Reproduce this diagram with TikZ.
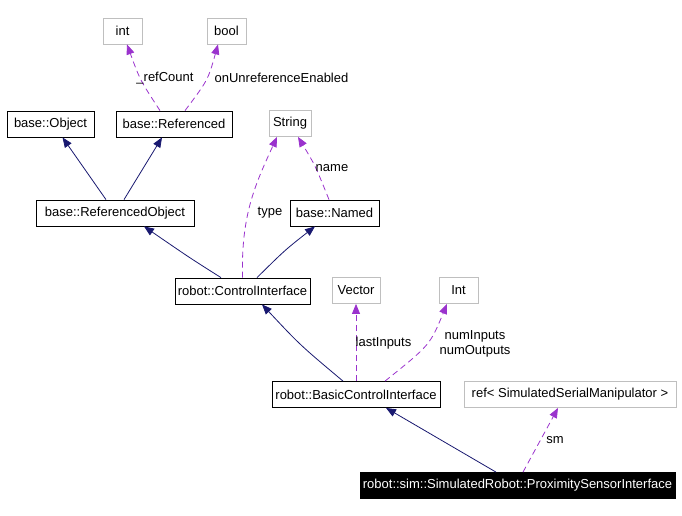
\documentclass[tikz,border=0pt]{standalone}
\usepackage{fontspec}
\setmainfont{Liberation Sans}
\usetikzlibrary{arrows.meta}
\definecolor{inhcol}{RGB}{25,25,112}
\definecolor{usecol}{RGB}{154,50,205}
\definecolor{typecol}{RGB}{191,191,191}

\begin{document}
\begin{tikzpicture}[
      x=1pt, y=-1pt,
      font=\fontsize{13}{15}\selectfont,
      cls/.style={draw=black, line width=0.8pt, fill=white, align=center,
                  minimum height=26pt, inner xsep=2pt, inner ysep=0pt},
      typ/.style={cls, draw=typecol},
      focus/.style={cls, fill=black, text=white},
      lbl/.style={align=center, inner sep=0pt},
      inh/.style={-{Triangle[length=10pt,width=8pt]}, draw=inhcol, line width=0.8pt},
      use/.style={-{Triangle[length=10pt,width=8pt]}, draw=usecol, line width=0.8pt,
                  dash pattern=on 6pt off 4pt}
    ]
    \useasboundingbox (0,0) rectangle (682,515);

    % ---- base classes ----
    \node[typ, minimum width=39pt] (int) at (122.5,31) {int};
    \node[typ, minimum width=39pt] (bool) at (226.5,31) {bool};
    \node[cls, minimum width=87pt] (object) at (50.5,124) {base::Object};
    \node[cls, minimum width=116pt] (referenced) at (174,124) {base::Referenced};
    \node[typ, minimum width=42pt] (string) at (290,123.5) {String};
    \node[cls, minimum width=158pt] (refobj) at (115,213) {base::ReferencedObject};
    \node[cls, minimum width=89pt] (named) at (334.5,213) {base::Named};

    % ---- robot classes ----
    \node[cls, minimum width=135pt] (ctrl) at (242.5,291) {robot::ControlInterface};
    \node[typ, minimum width=48pt] (vector) at (356,290.5) {Vector};
    \node[typ, minimum width=39pt] (intT) at (458.5,290.5) {Int};
    \node[cls, minimum width=168pt] (basic) at (356,394.5) {robot::BasicControlInterface};
    \node[typ, minimum width=212pt] (manip) at (570,394.5) {ref< SimulatedSerialManipulator >};
    \node[focus, minimum width=315pt] (prox) at (517.5,485.5)
      {robot::sim::SimulatedRobot::ProximitySensorInterface};

    % ---- inheritance ----
    \draw[inh] ([xshift=-9pt]refobj.north) -- ([xshift=12pt]object.south);
    \draw[inh] ([xshift=9pt]refobj.north) -- ([xshift=-12pt]referenced.south);
    \draw[inh] ([xshift=-21.5pt]ctrl.north) .. controls (190,258) .. ([xshift=29pt]refobj.south);
    \draw[inh] ([xshift=14.5pt]ctrl.north) .. controls (285,250) .. ([xshift=-19.5pt]named.south);
    \draw[inh] ([xshift=-13pt]basic.north) .. controls (300,345) .. ([xshift=19.5pt]ctrl.south);
    \draw[inh] ([xshift=-21.5pt]prox.north) -- ([xshift=30pt]basic.south);

    % ---- members ----
    \draw[use] ([xshift=-14pt]referenced.north) .. controls (140,80) .. ([xshift=4.5pt]int.south);
    \draw[use] ([xshift=11pt]referenced.north) .. controls (208,80) .. ([xshift=-8.5pt]bool.south);
    \draw[use] (ctrl.north) .. controls (241,215) and (255,185) .. ([xshift=-13pt]string.south);
    \draw[use] ([xshift=-5.5pt]named.north) .. controls (315,165) .. ([xshift=8pt]string.south);
    \draw[use] (basic.north) -- (vector.south);
    \draw[use] ([xshift=29pt]basic.north) .. controls (430,345) .. ([xshift=-11.5pt]intT.south);
    \draw[use] ([xshift=5.5pt]prox.north) -- ([xshift=-12pt]manip.south);

    % ---- member names ----
    \node[lbl] (lrefcount) at (165,78) {\_refCount};
    \node[lbl] (lunref) at (281.5,78) {onUnreferenceEnabled};
    \node[lbl] (ltype) at (270,213) {type};
    \node[lbl] (lname) at (332,168) {name};
    \node[lbl] (llast) at (383.5,343) {lastInputs};
    \node[lbl] (lnum) at (475,343.5) {numInputs\\numOutputs};
    \node[lbl] (lsm) at (555,440) {sm};
  \end{tikzpicture}
\end{document}
